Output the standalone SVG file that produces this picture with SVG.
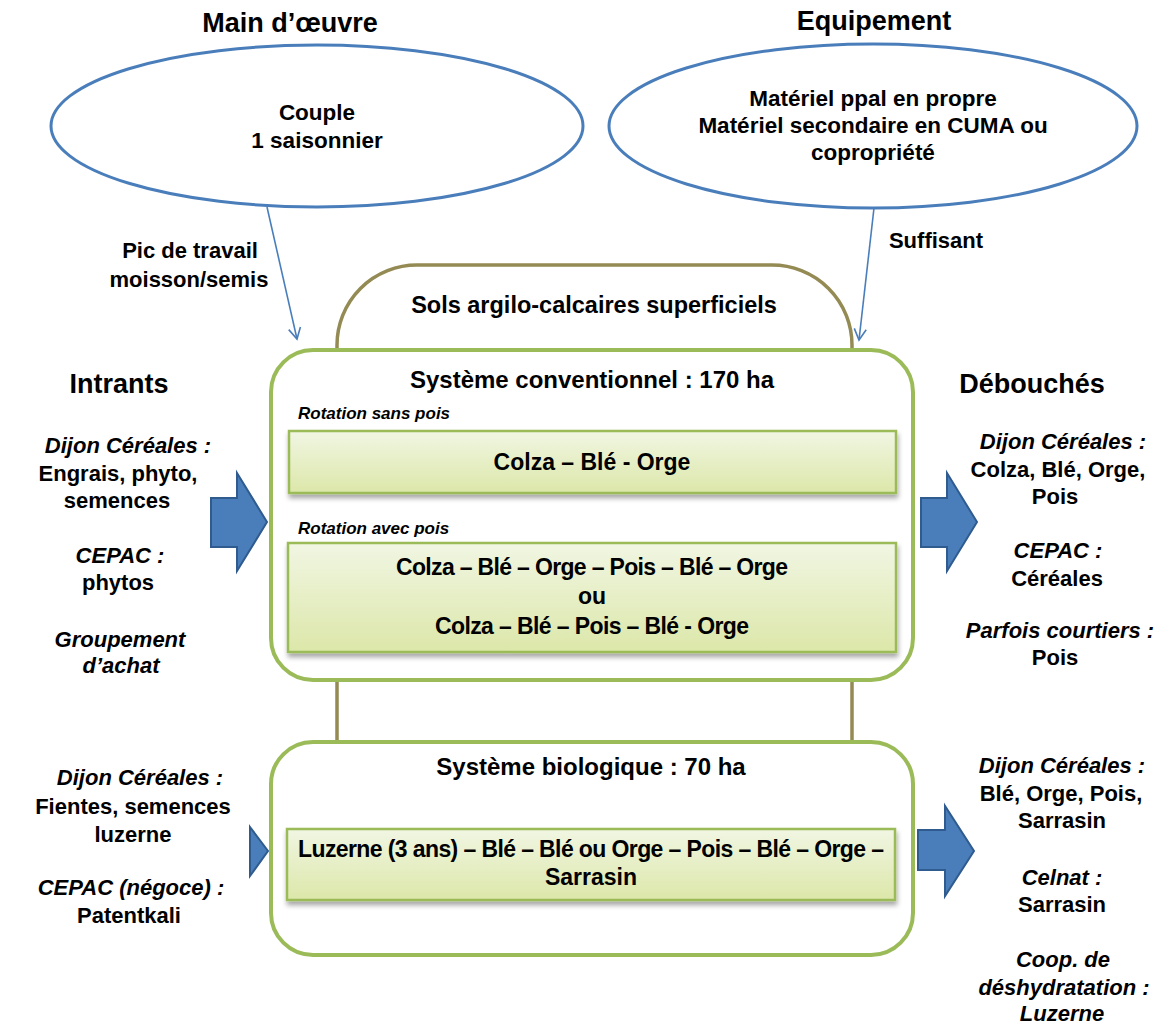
<svg xmlns="http://www.w3.org/2000/svg" width="1168" height="1026" viewBox="0 0 1168 1026">
  <style>
    text { font-family: "Liberation Sans", Arial, sans-serif; fill: #000; font-weight: bold; text-anchor: middle; }
    .title { font-size: 27px; }
    .body { font-size: 22px; }
    .it { font-style: italic; }
    .ell { font-size: 22.5px; }
    .sys { font-size: 24px; }
    .rot { font-size: 17px; font-style: italic; text-anchor: start; }
    .crop { font-size: 23px; }
    .ellipse { fill: #fff; stroke: #4a7ebb; stroke-width: 3; }
    .system { fill: #fff; stroke: #9bbb59; stroke-width: 4; }
    .rotation { fill: url(#rotFill); stroke: #9bbb59; stroke-width: 2.5; filter: url(#shadow); }
    .soil { fill: none; stroke: #948a54; stroke-width: 3.5; }
    .link { fill: none; stroke: #4a7ebb; stroke-width: 1.6; }
    .flow { fill: #4a7ebb; stroke: #2f5b8f; stroke-width: 2; stroke-linejoin: miter; }
  </style>
  <defs>
    <linearGradient id="rotFill" x1="0" y1="0" x2="0" y2="1">
      <stop offset="0" stop-color="#f1f6e3"/>
      <stop offset="1" stop-color="#dce7a9"/>
    </linearGradient>
    <filter id="shadow" x="-5%" y="-20%" width="110%" height="150%">
      <feDropShadow dx="1" dy="4" stdDeviation="2.5" flood-color="#000" flood-opacity="0.35"/>
    </filter>
    <marker id="vhead" viewBox="0 0 14 14" refX="12" refY="7" markerWidth="14" markerHeight="14" markerUnits="userSpaceOnUse" orient="auto">
      <path d="M1,1 L12,7 L1,13" fill="none" stroke="#4a7ebb" stroke-width="1.6"/>
    </marker>
  </defs>

  <!-- soil frame behind both systems -->
  <g id="soil">
    <rect class="soil" x="337" y="265" width="515" height="560" rx="80" ry="80"/>
    <text x="594" y="313" style="font-size:23.5px">Sols argilo-calcaires superficiels</text>
  </g>

  <!-- labour -->
  <g id="labour">
    <text class="title" x="290" y="32">Main d’œuvre</text>
    <ellipse class="ellipse" cx="317" cy="126" rx="266" ry="81"/>
    <text class="ell" x="317" y="120">Couple</text>
    <text class="ell" x="317" y="148">1 saisonnier</text>
  </g>

  <!-- equipment -->
  <g id="equipment">
    <text class="title" x="874" y="30">Equipement</text>
    <ellipse class="ellipse" cx="873" cy="126" rx="264" ry="82"/>
    <text class="ell" x="873" y="106">Matériel ppal en propre</text>
    <text class="ell" x="873" y="133">Matériel secondaire en CUMA ou</text>
    <text class="ell" x="873" y="160">copropriété</text>
  </g>

  <!-- connectors -->
  <g id="connectors">
    <line class="link" x1="267" y1="207" x2="297" y2="339" marker-end="url(#vhead)"/>
    <text class="body" x="190" y="258">Pic de travail</text>
    <text class="body" x="189" y="287">moisson/semis</text>
    <line class="link" x1="874" y1="208" x2="859" y2="340" marker-end="url(#vhead)"/>
    <text class="body" x="936" y="248">Suffisant</text>
    <polygon class="flow" points="211,498 237,498 237,473 267,522 237,571 237,547 211,547"/>
    <polygon class="flow" points="921,498 947,498 947,473 977,522 947,571 947,547 921,547"/>
    <polygon class="flow" points="250,827 268,851 250,876"/>
    <polygon class="flow" points="918,830 945,830 945,806 974,851 945,896 945,870 918,870"/>
  </g>

  <!-- conventional system -->
  <g id="conventional">
    <rect class="system" x="271" y="350" width="642" height="330" rx="42" ry="42"/>
    <text class="sys" x="592" y="388">Système conventionnel : 170 ha</text>
    <text class="rot" x="298" y="419">Rotation sans pois</text>
    <rect class="rotation" x="289" y="431" width="607" height="62"/>
    <text class="crop" x="592" y="470">Colza – Blé - Orge</text>
    <text class="rot" x="298" y="534">Rotation avec pois</text>
    <rect class="rotation" x="288" y="543" width="608" height="109"/>
    <text class="crop" x="592" y="575" textLength="392">Colza – Blé – Orge – Pois – Blé – Orge</text>
    <text class="crop" x="592" y="604">ou</text>
    <text class="crop" x="592" y="634" textLength="314">Colza – Blé – Pois – Blé - Orge</text>
  </g>

  <!-- organic system -->
  <g id="organic">
    <rect class="system" x="271" y="742" width="642" height="213" rx="42" ry="42"/>
    <text class="sys" x="591" y="775">Système biologique : 70 ha</text>
    <rect class="rotation" x="287" y="829" width="608" height="71"/>
    <text class="crop" x="591" y="857" textLength="586">Luzerne (3 ans) – Blé – Blé ou Orge – Pois – Blé – Orge –</text>
    <text class="crop" x="591" y="885">Sarrasin</text>
  </g>

  <!-- inputs -->
  <g id="inputs">
    <text class="title" x="119" y="393">Intrants</text>
    <text class="body it" x="128" y="453">Dijon Céréales :</text>
    <text class="body" x="118" y="481">Engrais, phyto,</text>
    <text class="body" x="117" y="508">semences</text>
    <text class="body it" x="120" y="563">CEPAC :</text>
    <text class="body" x="118" y="590">phytos</text>
    <text class="body it" x="120" y="647">Groupement</text>
    <text class="body it" x="121" y="673">d’achat</text>
  </g>

  <g id="inputs-organic">
    <text class="body it" x="140" y="785">Dijon Céréales :</text>
    <text class="body" x="133" y="814">Fientes, semences</text>
    <text class="body" x="133" y="842">luzerne</text>
    <text class="body it" x="131" y="895">CEPAC (négoce) :</text>
    <text class="body" x="129" y="923">Patentkali</text>
  </g>

  <!-- outlets -->
  <g id="outlets">
    <text class="title" x="1032" y="393">Débouchés</text>
    <text class="body it" x="1063" y="449">Dijon Céréales :</text>
    <text class="body" x="1058" y="477">Colza, Blé, Orge,</text>
    <text class="body" x="1055" y="504">Pois</text>
    <text class="body it" x="1058" y="558">CEPAC :</text>
    <text class="body" x="1057" y="586">Céréales</text>
    <text class="body it" x="1060" y="638">Parfois courtiers :</text>
    <text class="body" x="1055" y="665">Pois</text>
  </g>

  <g id="outlets-organic">
    <text class="body it" x="1062" y="773">Dijon Céréales :</text>
    <text class="body" x="1061" y="801">Blé, Orge, Pois,</text>
    <text class="body" x="1062" y="828">Sarrasin</text>
    <text class="body it" x="1062" y="885">Celnat :</text>
    <text class="body" x="1062" y="912">Sarrasin</text>
    <text class="body it" x="1063" y="967">Coop. de</text>
    <text class="body it" x="1064" y="995">déshydratation :</text>
    <text class="body it" x="1062" y="1021">Luzerne</text>
  </g>
</svg>
